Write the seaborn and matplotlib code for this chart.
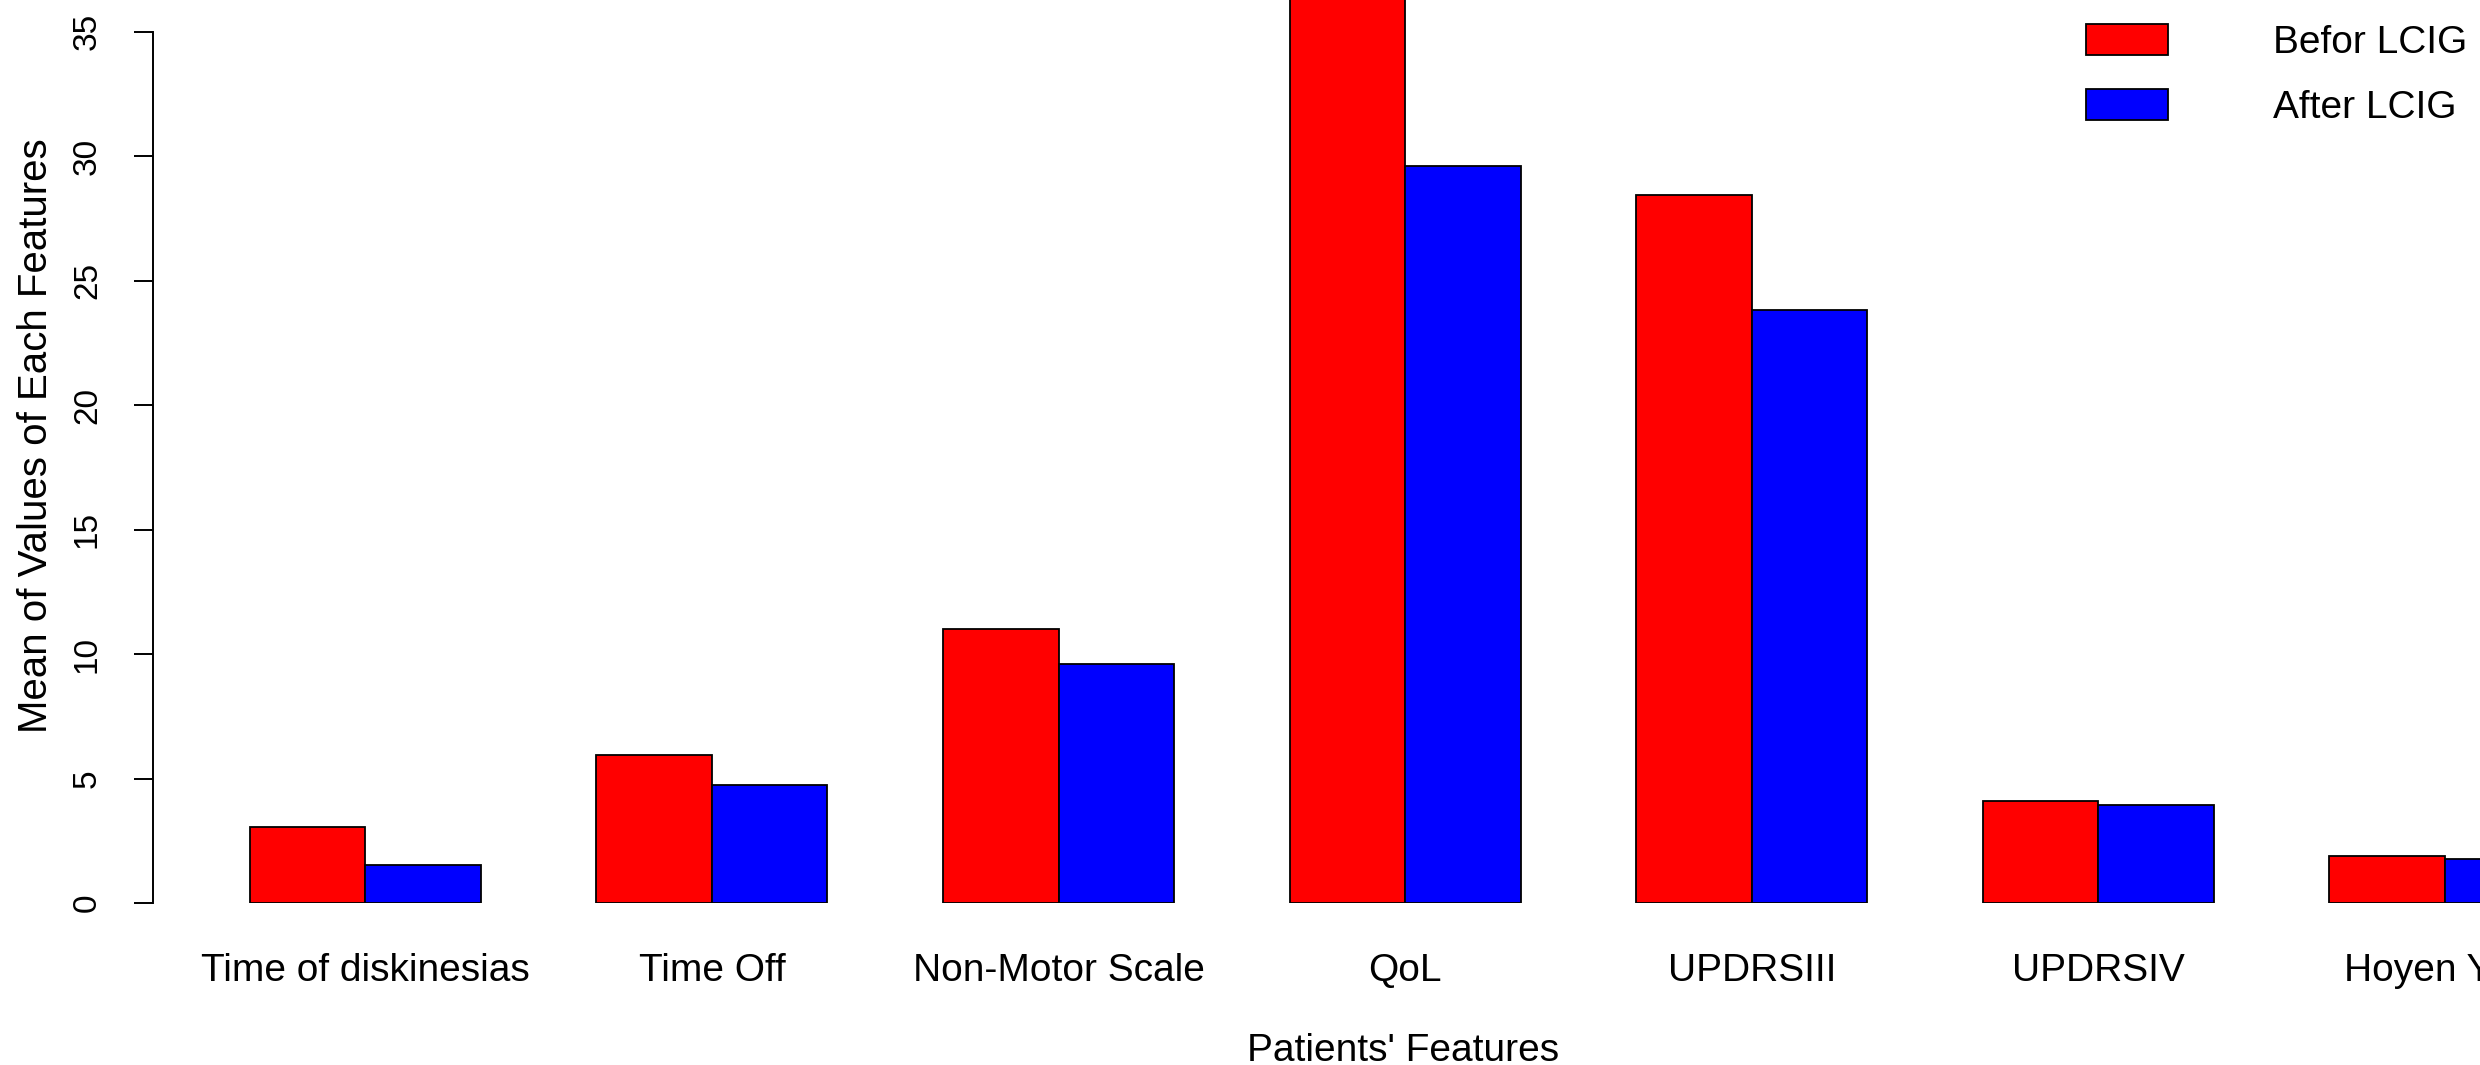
import pandas as pd
import seaborn as sns
import matplotlib.pyplot as plt

# Datos
features = ['Time of diskinesias', 'Time Off', 'Non-Motor Scale', 'QoL',
            'UPDRSIII', 'UPDRSIV', 'Hoyen Yahr']
before = [3.05, 5.95, 11.0, 37.3, 28.45, 4.1, 1.9]
after = [1.52, 4.75, 9.6, 29.6, 23.8, 3.95, 1.78]
groups = ['Befor LCIG', 'After LCIG']

df = pd.DataFrame({
    'feature': features * 2,
    'value': before + after,
    'period': [groups[0]] * len(features) + [groups[1]] * len(features),
})

sns.set_style('white')
plt.rcParams['font.family'] = ['Liberation Sans', 'DejaVu Sans']
plt.rcParams['text.color'] = 'black'
plt.rcParams['axes.labelcolor'] = 'black'
plt.rcParams['xtick.color'] = 'black'
plt.rcParams['ytick.color'] = 'black'

W, H = 2480, 1065
fig = plt.figure(figsize=(W / 100, H / 100), dpi=100)
ax = fig.add_axes([153 / W, 162 / H, 1 - 153 / W, 903 / H])

sns.barplot(data=df, x='feature', y='value', hue='period', order=features,
            hue_order=groups, palette=['#FF0000', '#0000FF'], saturation=1,
            width=2 / 3, edgecolor='black', linewidth=1.3, errorbar=None, ax=ax)

ax.set_xlim(-0.6125, 6.101)
ax.set_ylim(0, 36.27)
ax.set_yticks(range(0, 36, 5))

for s in ['top', 'right', 'bottom']:
    ax.spines[s].set_visible(False)
ax.spines['left'].set_bounds(0, 35)
ax.spines['left'].set_linewidth(1.4)
ax.spines['left'].set_color('black')

ax.tick_params(axis='y', length=14, width=1.4, pad=22, labelsize=24,
               colors='black', left=True)
for t in ax.get_yticklabels():
    t.set_rotation(90)
    t.set_va('center')
ax.tick_params(axis='x', length=0, pad=36, labelsize=28, colors='black')

ax.set_xlabel("Patients' Features", fontsize=28, color='black')
ax.set_ylabel('Mean of Values of Each Features', fontsize=29, color='black')
ax.xaxis.set_label_coords(0.537, -0.144)
ax.yaxis.set_label_coords(-0.0420, 0.518)

handles, labels = ax.get_legend_handles_labels()
leg = ax.legend(handles, labels, loc='upper left',
                bbox_to_anchor=(2086 / W, 1 - 24 / H), bbox_transform=fig.transFigure,
                frameon=False, borderpad=0, borderaxespad=0, fontsize=28,
                handlelength=2.1, handleheight=0.85, handletextpad=2.7,
                labelspacing=0.72)
for t in leg.get_texts():
    t.set_color('black')

fig.savefig('out.png', dpi=100)
